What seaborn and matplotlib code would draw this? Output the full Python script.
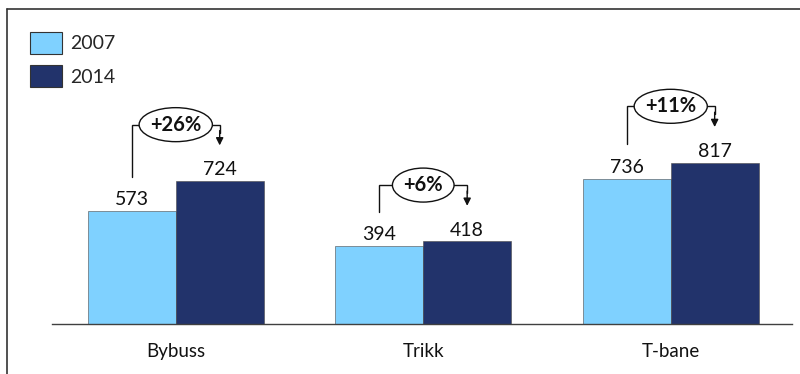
import matplotlib
matplotlib.use("Agg")
import matplotlib.pyplot as plt
from matplotlib.lines import Line2D
from matplotlib.patches import Ellipse
import seaborn as sns
import pandas as pd

# Passenger numbers per mode of transport
categories = ["Bybuss", "Trikk", "T-bane"]
years = ["2007", "2014"]
values_2007 = [573, 394, 736]
values_2014 = [724, 418, 817]
growth_labels = ["+26%", "+6%", "+11%"]

df = pd.DataFrame({
    "mode": categories * 2,
    "year": [years[0]] * 3 + [years[1]] * 3,
    "value": values_2007 + values_2014,
})

sns.set_theme(style="white")
plt.rcParams["font.family"] = ["Lato", "DejaVu Sans"]

palette = {"2007": "#7FD1FF", "2014": "#22336B"}

fig = plt.figure(figsize=(8.0, 3.74), dpi=100)
ax = fig.add_axes([0.065, 0.134, 0.925, 0.813])

sns.barplot(data=df, x="mode", y="value", hue="year", hue_order=years,
            order=categories, palette=palette, width=0.71, ax=ax,
            edgecolor="#4a4a4a", linewidth=0.4, saturation=1, legend=True)

ax.set_xlim(-0.5, 2.49)
ax.set_ylim(0, 1540)
ax.set_xlabel("")
ax.set_ylabel("")
ax.set_yticks([])
for side in ["top", "right", "left"]:
    ax.spines[side].set_visible(False)
ax.spines["bottom"].set_color("#404040")
ax.spines["bottom"].set_linewidth(1.0)
ax.tick_params(axis="x", length=0, pad=14, labelsize=13.5, colors="#111111")

# Value labels above each bar
for cont in ax.containers:
    ax.bar_label(cont, fmt="%d", padding=2, fontsize=14, color="#111111")

# Growth brackets from the 2007 bar to the 2014 bar
bars_2007 = sorted(ax.containers[0].patches, key=lambda p: p.get_x())
bars_2014 = sorted(ax.containers[1].patches, key=lambda p: p.get_x())
growth_texts = []
for i, (b0, b1) in enumerate(zip(bars_2007, bars_2014)):
    x0 = b0.get_x() + b0.get_width() / 2
    x1 = b1.get_x() + b1.get_width() / 2
    v0 = values_2007[i]
    v1 = values_2014[i]
    y_br = v1 + 285
    ax.plot([x0, x0, x1, x1], [v0 + 173, y_br, y_br, y_br - 40],
            color="#111111", lw=1.0, solid_joinstyle="miter", zorder=4)
    ax.annotate("", xy=(x1, v1 + 180), xytext=(x1, y_br - 30),
                arrowprops=dict(arrowstyle="-|>", color="#111111", lw=1.0,
                                mutation_scale=11, shrinkA=0, shrinkB=0),
                zorder=4)
    cx = (b0.get_x() + b1.get_x() + b1.get_width()) / 2
    t = ax.text(cx, y_br, growth_labels[i], ha="center", va="center",
                fontsize=14.5, fontweight="bold", color="#111111", zorder=6)
    growth_texts.append((t, cx, y_br))

# Ellipse outlines around the growth labels, sized from the rendered text
fig.canvas.draw()
renderer = fig.canvas.get_renderer()
px_x = ax.transData.transform((1, 0))[0] - ax.transData.transform((0, 0))[0]
px_y = ax.transData.transform((0, 1))[1] - ax.transData.transform((0, 0))[1]
for t, cx, cy in growth_texts:
    bb = t.get_window_extent(renderer)
    w_px = bb.width + 22
    h_px = 34
    ax.add_patch(Ellipse((cx, cy), w_px / px_x, h_px / px_y, fc="white",
                         ec="#111111", lw=1.0, zorder=5))

# Legend in the upper-left corner
handles, labels = ax.get_legend_handles_labels()
for h in handles:
    h.set_edgecolor("#333333")
    h.set_linewidth(0.8)
ax.legend(handles, labels, loc="upper left",
          bbox_to_anchor=(30 / 800, 1 - 32 / 374), bbox_transform=fig.transFigure,
          frameon=False, fontsize=14, handlelength=1.65, handleheight=1.35,
          handletextpad=0.4, labelspacing=0.6, borderpad=0, borderaxespad=0)

# Outer frame lines (top and left)
fig.add_artist(Line2D([7 / 800, 1.0], [1 - 9 / 374, 1 - 9 / 374],
                      transform=fig.transFigure, color="#333333", lw=1.2))
fig.add_artist(Line2D([7 / 800, 7 / 800], [0, 1 - 9 / 374],
                      transform=fig.transFigure, color="#333333", lw=1.2))

fig.savefig("out.png", dpi=100, facecolor="white")
